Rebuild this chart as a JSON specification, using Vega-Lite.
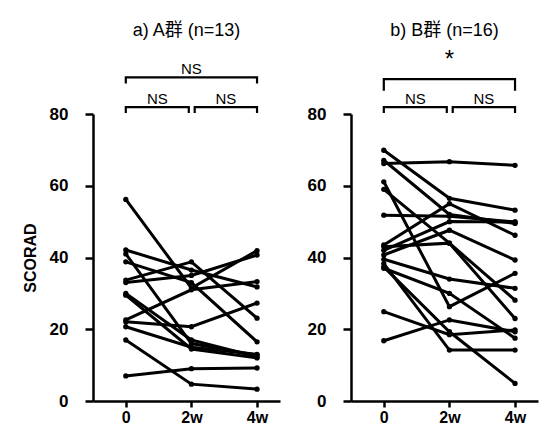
{
  "$schema": "https://vega.github.io/schema/vega-lite/v6.json",
  "padding": {"left": 22, "top": 21, "right": 2, "bottom": 0},
  "config": {
    "font": "Liberation Sans",
    "view": {"stroke": null},
    "axis": {"domainColor": "black", "domainWidth": 2.5, "tickColor": "black", "tickWidth": 2.5, "tickSize": 8, "labelColor": "black", "labelFont": "Liberation Sans", "labelFontSize": 17, "labelFontWeight": "bold", "grid": false, "titleColor": "black", "titleFont": "Liberation Sans", "titleFontSize": 16, "titleFontWeight": "bold"},
    "axisX": {"labelPadding": 2, "tickSize": 6, "labelFontSize": 16},
    "axisY": {"labelPadding": 17},
    "title": {"font": "Liberation Sans, Noto Sans CJK JP", "fontSize": 18, "fontWeight": "normal", "color": "black", "anchor": "middle", "frame": "group"}
  },
  "datasets": {
    "scores": [
      {"group": "A", "id": "A1", "week": 0, "score": 56.2}, {"group": "A", "id": "A1", "week": 2, "score": 31.5}, {"group": "A", "id": "A1", "week": 4, "score": 41.9},
      {"group": "A", "id": "A2", "week": 0, "score": 42.1}, {"group": "A", "id": "A2", "week": 2, "score": 36.5}, {"group": "A", "id": "A2", "week": 4, "score": 31.8},
      {"group": "A", "id": "A3", "week": 0, "score": 41.0}, {"group": "A", "id": "A3", "week": 2, "score": 16.0}, {"group": "A", "id": "A3", "week": 4, "score": 12.8},
      {"group": "A", "id": "A4", "week": 0, "score": 38.8}, {"group": "A", "id": "A4", "week": 2, "score": 33.0}, {"group": "A", "id": "A4", "week": 4, "score": 16.5},
      {"group": "A", "id": "A5", "week": 0, "score": 33.7}, {"group": "A", "id": "A5", "week": 2, "score": 38.8}, {"group": "A", "id": "A5", "week": 4, "score": 23.1},
      {"group": "A", "id": "A6", "week": 0, "score": 33.0}, {"group": "A", "id": "A6", "week": 2, "score": 35.0}, {"group": "A", "id": "A6", "week": 4, "score": 40.7},
      {"group": "A", "id": "A7", "week": 0, "score": 30.0}, {"group": "A", "id": "A7", "week": 2, "score": 17.0}, {"group": "A", "id": "A7", "week": 4, "score": 12.3},
      {"group": "A", "id": "A8", "week": 0, "score": 29.5}, {"group": "A", "id": "A8", "week": 2, "score": 14.5}, {"group": "A", "id": "A8", "week": 4, "score": 12.0},
      {"group": "A", "id": "A9", "week": 0, "score": 22.6}, {"group": "A", "id": "A9", "week": 2, "score": 31.0}, {"group": "A", "id": "A9", "week": 4, "score": 33.3},
      {"group": "A", "id": "A10", "week": 0, "score": 22.1}, {"group": "A", "id": "A10", "week": 2, "score": 20.7}, {"group": "A", "id": "A10", "week": 4, "score": 27.3},
      {"group": "A", "id": "A11", "week": 0, "score": 20.7}, {"group": "A", "id": "A11", "week": 2, "score": 15.0}, {"group": "A", "id": "A11", "week": 4, "score": 13.0},
      {"group": "A", "id": "A12", "week": 0, "score": 17.0}, {"group": "A", "id": "A12", "week": 2, "score": 4.7}, {"group": "A", "id": "A12", "week": 4, "score": 3.3},
      {"group": "A", "id": "A13", "week": 0, "score": 7.0}, {"group": "A", "id": "A13", "week": 2, "score": 9.0}, {"group": "A", "id": "A13", "week": 4, "score": 9.2},
      {"group": "B", "id": "B1", "week": 0, "score": 66.2}, {"group": "B", "id": "B1", "week": 2, "score": 66.7}, {"group": "B", "id": "B1", "week": 4, "score": 65.7},
      {"group": "B", "id": "B2", "week": 0, "score": 69.9}, {"group": "B", "id": "B2", "week": 2, "score": 56.5}, {"group": "B", "id": "B2", "week": 4, "score": 53.2},
      {"group": "B", "id": "B3", "week": 0, "score": 67.1}, {"group": "B", "id": "B3", "week": 2, "score": 52.0}, {"group": "B", "id": "B3", "week": 4, "score": 49.5},
      {"group": "B", "id": "B4", "week": 0, "score": 61.1}, {"group": "B", "id": "B4", "week": 2, "score": 26.3}, {"group": "B", "id": "B4", "week": 4, "score": 35.6},
      {"group": "B", "id": "B5", "week": 0, "score": 59.0}, {"group": "B", "id": "B5", "week": 2, "score": 44.0}, {"group": "B", "id": "B5", "week": 4, "score": 28.1},
      {"group": "B", "id": "B6", "week": 0, "score": 51.8}, {"group": "B", "id": "B6", "week": 2, "score": 51.5}, {"group": "B", "id": "B6", "week": 4, "score": 49.9},
      {"group": "B", "id": "B7", "week": 0, "score": 43.5}, {"group": "B", "id": "B7", "week": 2, "score": 55.0}, {"group": "B", "id": "B7", "week": 4, "score": 46.2},
      {"group": "B", "id": "B8", "week": 0, "score": 42.0}, {"group": "B", "id": "B8", "week": 2, "score": 50.0}, {"group": "B", "id": "B8", "week": 4, "score": 49.9},
      {"group": "B", "id": "B9", "week": 0, "score": 40.7}, {"group": "B", "id": "B9", "week": 2, "score": 47.6}, {"group": "B", "id": "B9", "week": 4, "score": 39.3},
      {"group": "B", "id": "B10", "week": 0, "score": 39.5}, {"group": "B", "id": "B10", "week": 2, "score": 34.0}, {"group": "B", "id": "B10", "week": 4, "score": 31.4},
      {"group": "B", "id": "B11", "week": 0, "score": 38.3}, {"group": "B", "id": "B11", "week": 2, "score": 14.2}, {"group": "B", "id": "B11", "week": 4, "score": 14.2},
      {"group": "B", "id": "B12", "week": 0, "score": 37.4}, {"group": "B", "id": "B12", "week": 2, "score": 19.3}, {"group": "B", "id": "B12", "week": 4, "score": 4.9},
      {"group": "B", "id": "B13", "week": 0, "score": 37.0}, {"group": "B", "id": "B13", "week": 2, "score": 30.0}, {"group": "B", "id": "B13", "week": 4, "score": 17.5},
      {"group": "B", "id": "B14", "week": 0, "score": 24.9}, {"group": "B", "id": "B14", "week": 2, "score": 18.5}, {"group": "B", "id": "B14", "week": 4, "score": 19.8},
      {"group": "B", "id": "B15", "week": 0, "score": 16.8}, {"group": "B", "id": "B15", "week": 2, "score": 22.6}, {"group": "B", "id": "B15", "week": 4, "score": 19.3},
      {"group": "B", "id": "B16", "week": 0, "score": 43.0}, {"group": "B", "id": "B16", "week": 2, "score": 44.0}, {"group": "B", "id": "B16", "week": 4, "score": 23.0}
    ],
    "brackets": [
      {"group": "A", "bid": "AL", "k": 0, "bx": 0, "by": 80.3}, {"group": "A", "bid": "AL", "k": 1, "bx": 0, "by": 81.9}, {"group": "A", "bid": "AL", "k": 2, "bx": 1.92, "by": 81.9}, {"group": "A", "bid": "AL", "k": 3, "bx": 1.92, "by": 80.3},
      {"group": "A", "bid": "AR", "k": 0, "bx": 2.1, "by": 80.3}, {"group": "A", "bid": "AR", "k": 1, "bx": 2.1, "by": 81.9}, {"group": "A", "bid": "AR", "k": 2, "bx": 4, "by": 81.9}, {"group": "A", "bid": "AR", "k": 3, "bx": 4, "by": 80.3},
      {"group": "A", "bid": "AU", "k": 0, "bx": 0, "by": 88.5}, {"group": "A", "bid": "AU", "k": 1, "bx": 0, "by": 90.2}, {"group": "A", "bid": "AU", "k": 2, "bx": 4, "by": 90.2}, {"group": "A", "bid": "AU", "k": 3, "bx": 4, "by": 88.5},
      {"group": "B", "bid": "BL", "k": 0, "bx": 0, "by": 80.3}, {"group": "B", "bid": "BL", "k": 1, "bx": 0, "by": 81.9}, {"group": "B", "bid": "BL", "k": 2, "bx": 1.92, "by": 81.9}, {"group": "B", "bid": "BL", "k": 3, "bx": 1.92, "by": 80.3},
      {"group": "B", "bid": "BR", "k": 0, "bx": 2.1, "by": 80.3}, {"group": "B", "bid": "BR", "k": 1, "bx": 2.1, "by": 81.9}, {"group": "B", "bid": "BR", "k": 2, "bx": 4, "by": 81.9}, {"group": "B", "bid": "BR", "k": 3, "bx": 4, "by": 80.3},
      {"group": "B", "bid": "BU", "k": 0, "bx": 0, "by": 86.5}, {"group": "B", "bid": "BU", "k": 1, "bx": 0, "by": 89.7}, {"group": "B", "bid": "BU", "k": 2, "bx": 4, "by": 89.7}, {"group": "B", "bid": "BU", "k": 3, "bx": 4, "by": 86.5}
    ],
    "signif": [
      {"group": "A", "tx": 0.96, "ty": 82.7, "label": "NS"},
      {"group": "A", "tx": 3.05, "ty": 82.7, "label": "NS"},
      {"group": "A", "tx": 2, "ty": 91.2, "label": "NS"},
      {"group": "B", "tx": 0.96, "ty": 82.7, "label": "NS"},
      {"group": "B", "tx": 3.05, "ty": 82.7, "label": "NS"},
      {"group": "B", "tx": 2, "ty": 93.0, "label": "*"}
    ]
  },
  "spacing": 27,
  "hconcat": [
    {
      "width": 187, "height": 287,
      "title": {"text": "a) A群 (n=13)", "offset": 22},
      "layer": [
        {
          "data": {"name": "scores"},
          "transform": [{"filter": "datum.group === 'A'"}],
          "mark": {"type": "line", "color": "black", "strokeWidth": 3, "point": {"filled": true, "color": "black", "size": 28}},
          "encoding": {
            "x": {"field": "week", "type": "quantitative", "scale": {"domain": [-1, 4.7], "nice": false, "zero": false}, "axis": {"values": [0, 2, 4], "labelExpr": "datum.value === 0 ? '0' : datum.value + 'w'", "title": null}},
            "y": {"field": "score", "type": "quantitative", "scale": {"domain": [0, 80], "nice": false}, "axis": {"values": [0, 20, 40, 60, 80], "title": "SCORAD", "titlePadding": 11}},
            "detail": {"field": "id"}
          }
        },
        {
          "data": {"name": "brackets"},
          "transform": [{"filter": "datum.group === 'A'"}],
          "mark": {"type": "line", "color": "black", "strokeWidth": 2.2, "clip": false},
          "encoding": {"x": {"field": "bx", "type": "quantitative"}, "y": {"field": "by", "type": "quantitative"}, "detail": {"field": "bid"}, "order": {"field": "k"}}
        },
        {
          "data": {"name": "signif"},
          "transform": [{"filter": "datum.group === 'A'"}],
          "mark": {"type": "text", "baseline": "alphabetic", "align": "center", "color": "black", "font": "Liberation Sans"},
          "encoding": {"x": {"field": "tx", "type": "quantitative"}, "y": {"field": "ty", "type": "quantitative"}, "text": {"field": "label"}, "size": {"condition": {"test": "datum.label === '*'", "value": 24}, "value": 15}}
        }
      ]
    },
    {
      "width": 187, "height": 287,
      "title": {"text": "b) B群 (n=16)", "offset": 8},
      "layer": [
        {
          "data": {"name": "scores"},
          "transform": [{"filter": "datum.group === 'B'"}],
          "mark": {"type": "line", "color": "black", "strokeWidth": 3, "point": {"filled": true, "color": "black", "size": 28}},
          "encoding": {
            "x": {"field": "week", "type": "quantitative", "scale": {"domain": [-1, 4.7], "nice": false, "zero": false}, "axis": {"values": [0, 2, 4], "labelExpr": "datum.value === 0 ? '0' : datum.value + 'w'", "title": null}},
            "y": {"field": "score", "type": "quantitative", "scale": {"domain": [0, 80], "nice": false}, "axis": {"values": [0, 20, 40, 60, 80], "title": null}},
            "detail": {"field": "id"}
          }
        },
        {
          "data": {"name": "brackets"},
          "transform": [{"filter": "datum.group === 'B'"}],
          "mark": {"type": "line", "color": "black", "strokeWidth": 2.2, "clip": false},
          "encoding": {"x": {"field": "bx", "type": "quantitative"}, "y": {"field": "by", "type": "quantitative"}, "detail": {"field": "bid"}, "order": {"field": "k"}}
        },
        {
          "data": {"name": "signif"},
          "transform": [{"filter": "datum.group === 'B'"}],
          "mark": {"type": "text", "baseline": "alphabetic", "align": "center", "color": "black", "font": "Liberation Sans"},
          "encoding": {"x": {"field": "tx", "type": "quantitative"}, "y": {"field": "ty", "type": "quantitative"}, "text": {"field": "label"}, "size": {"condition": {"test": "datum.label === '*'", "value": 24}, "value": 15}}
        }
      ]
    }
  ]
}
